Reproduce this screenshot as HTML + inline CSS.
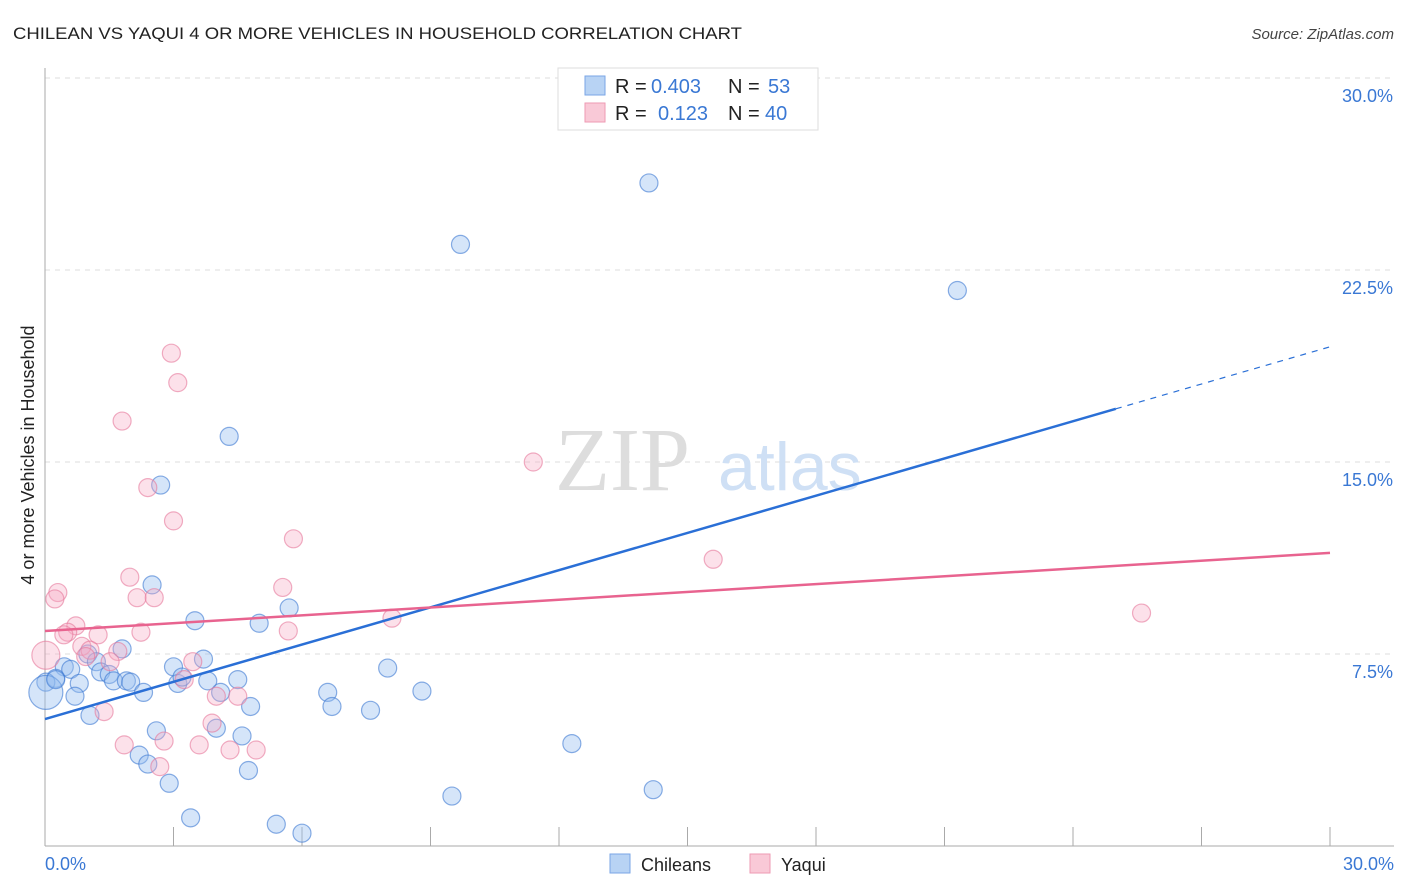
<!DOCTYPE html>
<html><head><meta charset="utf-8"><style>
body{margin:0;background:#fff;font-family:"Liberation Sans",sans-serif}
svg{display:block}
</style></head><body>
<svg id="chart" width="1406" height="892" xmlns="http://www.w3.org/2000/svg">
<text x="13" y="39" font-size="17" fill="#222" textLength="729" lengthAdjust="spacingAndGlyphs">CHILEAN VS YAQUI 4 OR MORE VEHICLES IN HOUSEHOLD CORRELATION CHART</text>
<text x="1394" y="39" font-size="15" fill="#444" text-anchor="end" font-style="italic">Source: ZipAtlas.com</text>
<g id="grid"></g>
<g id="axes"></g>
<text x="555" y="490" font-size="90" font-family="Liberation Serif,serif" fill="#ddd">ZIP</text>
<text x="718" y="490" font-size="68" fill="#cfe0f5">atlas</text>
<g id="pts"></g>
<g id="lines"></g>
<text x="34" y="455" font-size="18" fill="#222" text-anchor="middle" transform="rotate(-90 34 455)">4 or more Vehicles in Household</text>
<text x="45" y="870" font-size="18" fill="#3a78d4">0.0%</text>
<text x="1394" y="870" font-size="18" fill="#3a78d4" text-anchor="end">30.0%</text>
<g>
<rect x="558" y="68" width="260" height="62" fill="#fff" stroke="#ddd"/>
<rect x="585" y="76" width="20" height="19" fill="#b8d3f4" stroke="#7aa6e6"/>
<rect x="585" y="103" width="20" height="19" fill="#f9c9d7" stroke="#ee9ab3"/>
<text x="615" y="93" font-size="20" fill="#222">R = <tspan fill="#3a78d4" x="651">0.403</tspan><tspan x="728">N = </tspan><tspan fill="#3a78d4" x="768">53</tspan></text>
<text x="615" y="120" font-size="20" fill="#222">R = <tspan fill="#3a78d4" x="658">0.123</tspan><tspan x="728">N = </tspan><tspan fill="#3a78d4" x="765">40</tspan></text>
</g>
<g>
<rect x="610" y="854" width="20" height="19" fill="#b8d3f4" stroke="#7aa6e6"/>
<text x="641" y="871" font-size="18" fill="#222">Chileans</text>
<rect x="750" y="854" width="20" height="19" fill="#f9c9d7" stroke="#ee9ab3"/>
<text x="781" y="871" font-size="18" fill="#222">Yaqui</text>
</g>
</svg>
<script>
const yTicks=[7.5,15,22.5,30];
const yTickLabels=["7.5%","15.0%","22.5%","30.0%"];
const xTicks=[0,3,6,9,12,15,18,21,24,27,30];
const chileanX=[14.1,9.7,21.3,4.3,2.7,2.5,5.7,3.5,5.0,1.8,1.0,1.2,3.7,0.45,0.6,1.3,1.5,3.0,1.6,1.9,2.0,0.25,0.02,0.8,3.8,3.1,3.2,4.5,4.1,2.3,0.7,8.0,6.6,8.8,4.8,6.7,7.6,1.05,2.6,4.0,4.6,12.3,2.2,2.4,4.75,2.9,9.5,14.2,3.4,5.4,6.0,0.02,0.25];
const chileanY=[25.9,23.5,21.7,16.0,14.1,10.2,9.3,8.8,8.7,7.7,7.5,7.2,7.3,7.0,6.9,6.8,6.7,7.0,6.45,6.45,6.4,6.55,6.4,6.35,6.45,6.35,6.6,6.5,6.0,6.0,5.85,6.95,6.0,6.05,5.45,5.45,5.3,5.1,4.5,4.6,4.3,4.0,3.55,3.2,2.95,2.45,1.95,2.2,1.1,0.85,0.5,6.0,6.5];
const yaquiX=[2.95,3.1,1.8,2.4,3.0,11.4,5.8,15.6,1.98,5.55,0.3,0.23,2.15,2.55,25.6,0.72,8.1,0.53,0.44,1.24,2.24,5.68,0.86,1.05,1.7,0.02,1.52,3.45,3.25,4.0,4.5,3.9,1.38,1.85,2.78,3.6,4.32,4.93,2.68,0.95];
const yaquiY=[19.25,18.1,16.6,14.0,12.7,15.0,12.0,11.2,10.5,10.1,9.9,9.65,9.7,9.7,9.1,8.6,8.9,8.35,8.25,8.25,8.35,8.4,7.8,7.65,7.6,7.45,7.2,7.2,6.5,5.85,5.85,4.8,5.25,3.95,4.1,3.95,3.75,3.75,3.1,7.4];
const chileanTrend=[4.96,19.5];
const yaquiTrend=[8.4,11.45];
const X0=45,X1=1330,Y0=846,PXY=25.6;
const sx=v=>X0+(X1-X0)*v/30, sy=v=>Y0-v*PXY;
const NS="http://www.w3.org/2000/svg";
function mk(t,p,a){const e=document.createElementNS(NS,t);for(const k in a)e.setAttribute(k,a[k]);p.appendChild(e);return e;}
const grid=document.getElementById('grid'),axes=document.getElementById('axes');
yTicks.forEach((v,i)=>{
 const l=mk('line',grid,{x1:45,x2:1394,y1:sy(v),y2:sy(v),stroke:'#ddd','stroke-dasharray':'5,5'});
 
 
 const t=mk('text',axes,{x:1393,y:sy(v)+24,'font-size':18,fill:'#3a78d4','text-anchor':'end'});t.textContent=yTickLabels[i];
 
 
});
mk('line',axes,{x1:45,x2:45,y1:68,y2:846,stroke:'#aaa'});
mk('line',axes,{x1:45,x2:1394,y1:846,y2:846,stroke:'#aaa'});
xTicks.forEach(v=>{const t=mk('line',axes,{x1:sx(v),x2:sx(v),y1:827,y2:846,stroke:'#aaa'});
 
 });
const pts=document.getElementById('pts');
chileanX.forEach((x,i)=>{const r=(i==51)?17:9;const c=mk('circle',pts,{cx:sx(x),cy:sy(chileanY[i]),r:r,fill:'rgba(150,190,240,0.4)',stroke:'rgba(60,120,210,0.6)','stroke-width':1.2});
 
 });
yaquiX.forEach((x,i)=>{const r=(i==25)?14:9;const c=mk('circle',pts,{cx:sx(x),cy:sy(yaquiY[i]),r:r,fill:'rgba(245,170,195,0.35)',stroke:'rgba(230,120,155,0.6)','stroke-width':1.2});
 
 });
const lines=document.getElementById('lines');
const f=x=>chileanTrend[0]+(chileanTrend[1]-chileanTrend[0])*x/30;
const xs=25;
let l1=mk('line',lines,{x1:sx(0),y1:sy(f(0)),x2:sx(xs),y2:sy(f(xs)),stroke:'#2a6fd6','stroke-width':2.5});


let l2=mk('line',lines,{x1:sx(xs),y1:sy(f(xs)),x2:sx(30),y2:sy(f(30)),stroke:'#2a6fd6','stroke-width':1.2,'stroke-dasharray':'6,6'});


let l3=mk('line',lines,{x1:sx(0),y1:sy(yaquiTrend[0]),x2:sx(30),y2:sy(yaquiTrend[1]),stroke:'#e8638f','stroke-width':2.5});


</script>
</body></html>
